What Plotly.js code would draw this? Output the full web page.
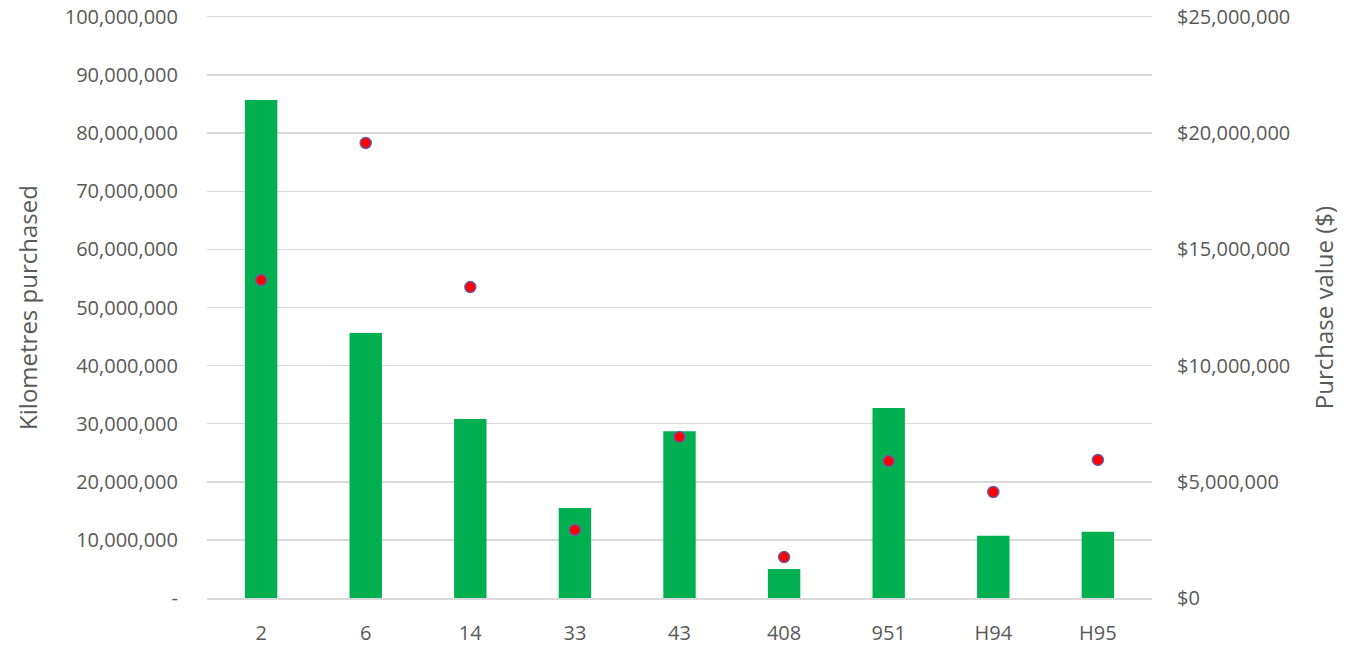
<!DOCTYPE html>
<html>
<head>
<meta charset="utf-8">
<script src="https://cdn.plot.ly/plotly-3.0.1.min.js"></script>
<style>html,body{margin:0;padding:0;background:#fff;}#chart{width:1361px;height:658px;}</style>
</head>
<body>
<div id="chart"></div>
<script>
const categories = ["2", "6", "14", "33", "43", "408", "951", "H94", "H95"];
const kmPurchased = [85700000, 45600000, 30800000, 15500000, 28700000, 5000000, 32700000, 10700000, 11400000];
const purchaseValue = [13680000, 19580000, 13380000, 2930000, 6930000, 1760000, 5890000, 4560000, 5940000];
const leftTickVals = [0, 10000000, 20000000, 30000000, 40000000, 50000000, 60000000, 70000000, 80000000, 90000000, 100000000];
const leftTickText = ["-", "10,000,000", "20,000,000", "30,000,000", "40,000,000", "50,000,000", "60,000,000", "70,000,000", "80,000,000", "90,000,000", "100,000,000"];
const rightTickVals = [0, 5000000, 10000000, 15000000, 20000000, 25000000];
const rightTickText = ["$0", "$5,000,000", "$10,000,000", "$15,000,000", "$20,000,000", "$25,000,000"];

const fontFam = "Open Sans, Liberation Sans, sans-serif";
const txtColor = "#595959";
const traces = [
  {
    type: "bar", x: categories, y: kmPurchased, name: "Kilometres purchased",
    marker: {color: "#00b050"}, width: 0.31, yaxis: "y"
  },
  {
    type: "scatter", mode: "markers", x: categories, y: purchaseValue, name: "Purchase value ($)",
    marker: {color: "#ff0000", size: 11, line: {color: "#6a5aa8", width: 1.5}}, yaxis: "y2"
  }
];
const layout = {
  width: 1361, height: 658,
  margin: {l: 207, r: 209, t: 17, b: 60},
  paper_bgcolor: "#ffffff", plot_bgcolor: "#ffffff",
  showlegend: false,
  font: {family: fontFam, size: 20, color: txtColor},
  xaxis: {
    type: "category", showgrid: false, zeroline: false,
    showline: true, mirror: true, linecolor: "#d9d9d9", linewidth: 1.5,
    ticks: "", ticklabelstandoff: 16,
    tickfont: {size: 20, color: txtColor}
  },
  yaxis: {
    range: [0, 100000000], tickvals: leftTickVals, ticktext: leftTickText,
    showgrid: true, gridcolor: "#d9d9d9", gridwidth: 1.5, zeroline: false, showline: false,
    ticks: "", ticklabelstandoff: 28,
    tickfont: {size: 20, color: txtColor},
    title: {text: "Kilometres purchased", font: {size: 24, color: txtColor}, standoff: 20}
  },
  yaxis2: {
    overlaying: "y", side: "right", range: [0, 25000000],
    tickvals: rightTickVals, ticktext: rightTickText,
    showgrid: false, zeroline: false, showline: false, ticks: "", ticklabelstandoff: 24,
    tickfont: {size: 20, color: txtColor},
    title: {text: "Purchase value ($)", font: {size: 24, color: txtColor}, standoff: 26}
  }
};
Plotly.newPlot("chart", traces, layout, {displayModeBar: false, staticPlot: true});
</script>
</body>
</html>
